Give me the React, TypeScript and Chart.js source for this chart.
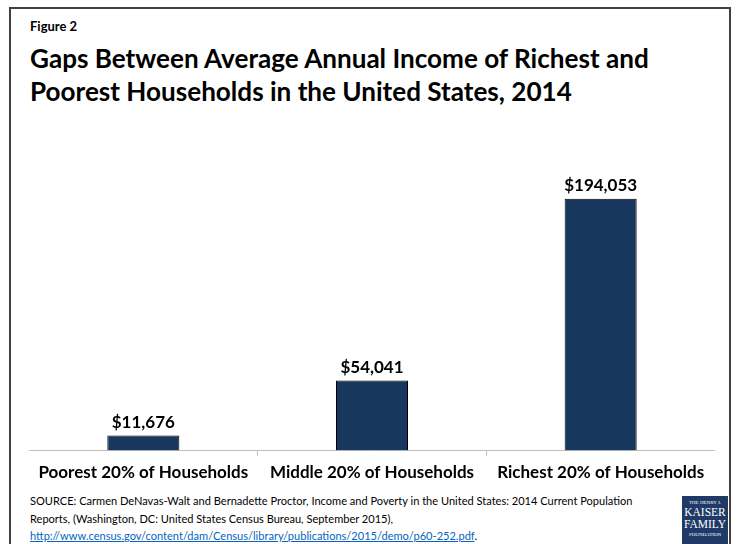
import React, { useEffect, useRef } from "react";
import { Chart, registerables } from "chart.js";

Chart.register(...registerables);

const categories = ["Poorest 20% of Households", "Middle 20% of Households", "Richest 20% of Households"];
const incomes = [11676, 54041, 194053];
const yMax = 250000;

const FONT = "Lato, 'Open Sans', sans-serif";

const valueLabels = {
  id: "valueLabels",
  afterDatasetsDraw(chart: any) {
    const ctx = chart.ctx;
    const meta = chart.getDatasetMeta(0);
    ctx.save();
    ctx.font = `bold 17px ${FONT}`;
    ctx.fillStyle = "#000";
    ctx.textAlign = "center";
    ctx.textBaseline = "middle";
    meta.data.forEach((bar: any, i: number) => {
      const v = chart.data.datasets[0].data[i] as number;
      ctx.fillText("$" + v.toLocaleString("en-US"), bar.x, bar.y - 13);
    });
    ctx.restore();
  },
};

export default function App() {
  const ref = useRef<HTMLCanvasElement | null>(null);
  useEffect(() => {
    if (!ref.current) return;
    const chart = new Chart(ref.current, {
      type: "bar",
      data: {
        labels: categories,
        datasets: [
          {
            data: incomes,
            backgroundColor: "#17375E",
            borderColor: "#000000",
            borderWidth: 1,
            categoryPercentage: 1,
            barPercentage: 0.315,
          },
        ],
      },
      options: {
        responsive: false,
        animation: false,
        layout: { padding: 0 },
        plugins: { legend: { display: false }, tooltip: { enabled: false } },
        scales: {
          y: { display: false, min: 0, max: yMax },
          x: {
            grid: { display: true, drawOnChartArea: false, drawTicks: true, tickLength: 5, color: "#bfbfbf", offset: true },
            border: { display: true, color: "#bfbfbf", width: 1 },
            ticks: { color: "#000", padding: 7, font: { family: FONT, size: 17, weight: "bold" } },
          },
        },
      },
      plugins: [valueLabels],
    });
    return () => chart.destroy();
  }, []);

  return (
    <div style={{ position: "absolute", left: 0, top: 0, width: 739, height: 544, overflow: "hidden", background: "#fff", fontFamily: FONT }}>
      <div style={{ position: "absolute", left: 9, top: 7, width: 722, height: 560, border: "2.5px solid #404040", boxSizing: "border-box" }} />
      <div style={{ position: "absolute", left: 30, top: 18, fontSize: 13, fontWeight: "bold", color: "#000" }}>Figure 2</div>
      <div style={{ position: "absolute", left: 30, top: 42, fontSize: 26.1, fontWeight: "bold", color: "#000", lineHeight: "33px", whiteSpace: "nowrap" }}>
        Gaps Between Average Annual Income of Richest and
        <br />
        Poorest Households in the United States, 2014
      </div>
      <canvas ref={ref} width={686} height={364} style={{ position: "absolute", left: 29, top: 126, width: 686, height: 364 }} />
      <div style={{ position: "absolute", left: 30, top: 492, fontSize: 11.05, color: "#000", lineHeight: "17.5px", whiteSpace: "nowrap" }}>
        SOURCE: Carmen DeNavas-Walt and Bernadette Proctor, Income and Poverty in the United States: 2014 Current Population
        <br />
        Reports, (Washington, DC: United States Census Bureau, September 2015),
        <br />
        <span style={{ color: "#0563C1", textDecoration: "underline" }}>http://www.census.gov/content/dam/Census/library/publications/2015/demo/p60-252.pdf</span>.
      </div>
      <div style={{ position: "absolute", left: 682, top: 496, width: 46, height: 50, background: "#1F3A66", color: "#fff", fontFamily: "'Liberation Serif', 'DejaVu Serif', serif", textAlign: "center", lineHeight: 1 }}>
        <div style={{ fontSize: 5, marginTop: 4 }}>THE HENRY J.</div>
        <div style={{ fontSize: 11.5, marginTop: 2 }}>KAISER</div>
        <div style={{ fontSize: 11.5 }}>FAMILY</div>
        <div style={{ fontSize: 5, marginTop: 2 }}>FOUNDATION</div>
      </div>
    </div>
  );
}
